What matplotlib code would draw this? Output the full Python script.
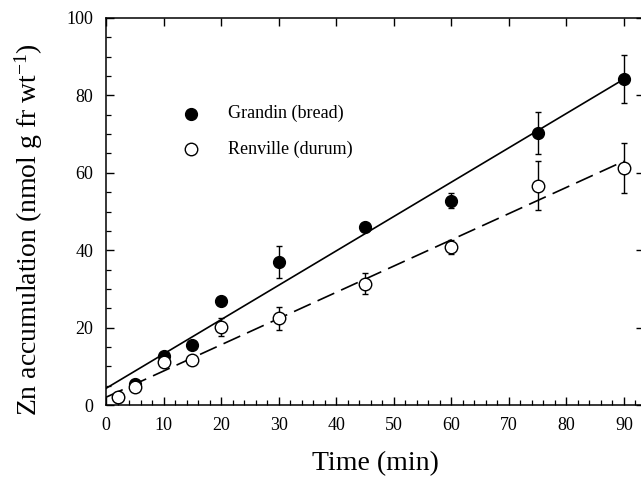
import matplotlib
matplotlib.use("Agg")
import matplotlib.pyplot as plt
from matplotlib.ticker import MultipleLocator

plt.rcParams['font.family'] = ['Liberation Serif', 'DejaVu Serif']
plt.rcParams['mathtext.fontset'] = 'custom'
plt.rcParams['mathtext.rm'] = 'Liberation Serif'
plt.rcParams['mathtext.it'] = 'Liberation Serif:italic'
plt.rcParams['mathtext.bf'] = 'Liberation Serif:bold'

# ---- data ----
time_min = [2, 5, 10, 15, 20, 30, 45, 60, 75, 90]
grandin = [2.0, 5.5, 12.7, 15.5, 27.0, 37.0, 45.9, 52.8, 70.2, 84.2]
grandin_err = [0.3, 0.5, 0.5, 0.5, 0.5, 4.1, 1.0, 2.0, 5.4, 6.2]
renville = [2.0, 4.7, 11.2, 11.6, 20.2, 22.4, 31.3, 40.8, 56.7, 61.2]
renville_err = [0.3, 0.8, 0.8, 0.8, 2.4, 3.0, 2.7, 1.9, 6.4, 6.5]

fit_time = [0, 90]
grandin_fit = [4.3, 84.2]
renville_fit = [2.0, 63.0]

labels = ["Grandin (bread)", "Renville (durum)"]
xlabel = "Time (min)"
ylabel = r"Zn accumulation (nmol g fr wt$^{-1}$)"

# ---- figure ----
fig = plt.figure(figsize=(6.41, 4.80), dpi=100)
W, H = 641, 480
x0, x1 = 106, 644
y0, y1 = 405, 18
ax = fig.add_axes([x0 / W, 1 - y0 / H, (x1 - x0) / W, (y0 - y1) / H])

ax.plot(fit_time, grandin_fit, color='black', lw=1.2, zorder=2)
ax.plot(fit_time, renville_fit, color='black', lw=1.2, dashes=(11, 4.5), zorder=2)

ax.errorbar(time_min, grandin, yerr=grandin_err, fmt='o', color='black',
            markersize=8.5, markerfacecolor='black', markeredgecolor='black',
            ecolor='black', elinewidth=1.0, capsize=2.5, capthick=1.0, zorder=3)
ax.errorbar(time_min, renville, yerr=renville_err, fmt='o', color='black',
            markersize=9, markerfacecolor='white', markeredgecolor='black',
            markeredgewidth=1.0, ecolor='black', elinewidth=1.0, capsize=2.5,
            capthick=1.0, zorder=4)

ax.set_xlim(0, 93.5)
ax.set_ylim(0, 100)

ax.xaxis.set_major_locator(MultipleLocator(10))
ax.xaxis.set_minor_locator(MultipleLocator(2))
ax.yaxis.set_major_locator(MultipleLocator(20))
ax.yaxis.set_minor_locator(MultipleLocator(5))
ax.set_xticks(range(0, 91, 10))

ax.tick_params(which='major', direction='in', top=True, right=True,
               length=6, width=1.0, labelsize=13, pad=9)
ax.tick_params(which='minor', direction='in', top=False, right=False,
               length=3.5, width=0.9)
for s in ax.spines.values():
    s.set_linewidth(1.1)

ax.set_xlabel(xlabel, fontsize=20, labelpad=12)
ax.set_ylabel(ylabel, fontsize=20)
ax.yaxis.set_label_coords((45 - x0) / (x1 - x0), (y0 - 230) / (y0 - y1))

# legend (manual, in axes coordinates)
leg_x = (191 - x0) / (x1 - x0)
txt_x = (228 - x0) / (x1 - x0)
leg_y = [(y0 - 113.8) / (y0 - y1), (y0 - 149.0) / (y0 - y1)]
ax.plot([leg_x], [leg_y[0]], 'o', transform=ax.transAxes, markersize=8.5,
        markerfacecolor='black', markeredgecolor='black', clip_on=False)
ax.plot([leg_x], [leg_y[1]], 'o', transform=ax.transAxes, markersize=9,
        markerfacecolor='white', markeredgecolor='black', clip_on=False)
for yy, lab in zip(leg_y, labels):
    ax.text(txt_x, yy, lab, transform=ax.transAxes, fontsize=13,
            va='center', ha='left')

fig.savefig("out.png", dpi=100)
